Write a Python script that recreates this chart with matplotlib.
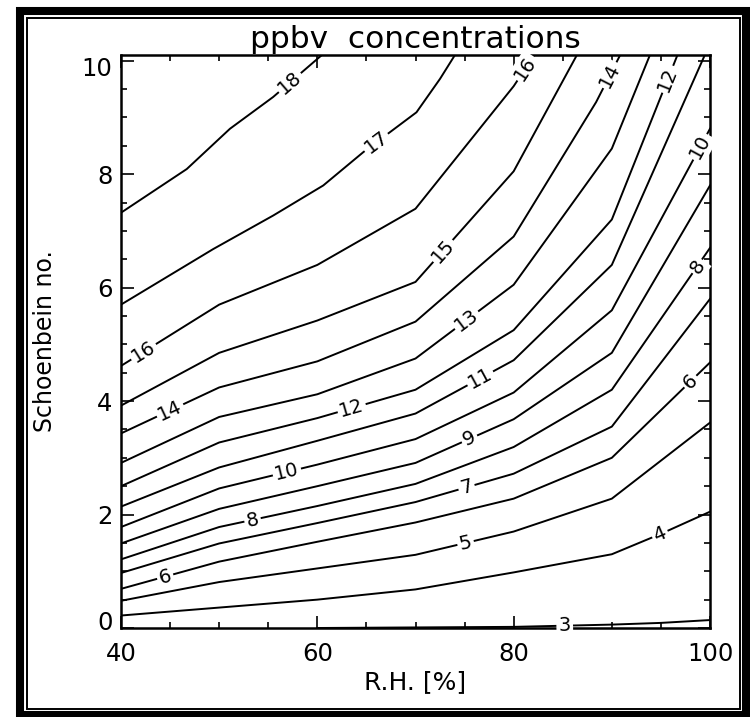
import numpy as np
import matplotlib.pyplot as plt
from matplotlib.patches import Rectangle
from matplotlib.ticker import MultipleLocator
from matplotlib.transforms import ScaledTranslation

# Contour traces: Schoenbein no. at given R.H. [%] for each ppbv level
rh_nodes = [40, 50, 60, 70, 80, 90, 100]

c18_x = [40, 46.7, 51.1, 55.5, 60.8]
c18_y = [7.32, 8.09, 8.80, 9.36, 10.15]
c17_x = [40, 49.4, 55.5, 60.6, 64.7, 70.1, 72.5, 74.2]
c17_y = [5.70, 6.68, 7.27, 7.80, 8.39, 9.09, 9.68, 10.15]
c16_x = [40, 50, 60, 70, 80, 82.3]
c16_y = [4.62, 5.70, 6.40, 7.39, 9.55, 10.15]
c15_x = [40, 50, 60, 70, 80, 86.6]
c15_y = [3.92, 4.85, 5.42, 6.10, 8.05, 10.15]
c14_x = [40, 50, 60, 70, 80, 88.4, 91]
c14_y = [3.43, 4.24, 4.70, 5.40, 6.90, 9.27, 10.15]
c13_x = [40, 50, 60, 70, 80, 90, 94]
c13_y = [2.91, 3.72, 4.12, 4.75, 6.05, 8.45, 10.15]
c12_x = [40, 50, 60, 70, 80, 90, 96.8]
c12_y = [2.50, 3.27, 3.70, 4.20, 5.25, 7.20, 10.15]
c11_x = [40, 50, 60, 70, 80, 90, 99.6]
c11_y = [2.14, 2.83, 3.30, 3.78, 4.72, 6.40, 10.15]
c10_y = [1.78, 2.46, 2.88, 3.33, 4.15, 5.60, 8.80]
c9_y = [1.49, 2.10, 2.50, 2.91, 3.68, 4.85, 7.80]
c8_y = [1.21, 1.78, 2.15, 2.54, 3.19, 4.20, 6.70]
c7_y = [0.97, 1.49, 1.85, 2.22, 2.72, 3.55, 5.80]
c6_y = [0.69, 1.17, 1.52, 1.86, 2.28, 3.00, 4.68]
c5_y = [0.48, 0.81, 1.05, 1.29, 1.70, 2.28, 3.62]
c4_x = [40, 50, 60, 70, 80, 90, 95, 100]
c4_y = [0.22, 0.36, 0.50, 0.68, 0.98, 1.30, 1.66, 2.05]
c3_x = [60, 70, 80, 85, 90, 95, 100]
c3_y = [0.0, 0.01, 0.02, 0.04, 0.06, 0.09, 0.14]

# R.H. positions of the inline labels on each contour
label_at = {18: [57.2], 17: [66.0], 16: [42.3, 81.2], 15: [72.8], 14: [45.0, 89.8],
            13: [75.2], 12: [63.5, 95.7], 11: [76.6], 10: [56.9, 99.0], 9: [75.5],
            8: [53.4, 98.7], 7: [75.2], 6: [44.5, 98.0], 5: [75.1], 4: [94.9], 3: [85.2]}

contours = {
    18: (c18_x, c18_y), 17: (c17_x, c17_y), 16: (c16_x, c16_y), 15: (c15_x, c15_y),
    14: (c14_x, c14_y), 13: (c13_x, c13_y), 12: (c12_x, c12_y), 11: (c11_x, c11_y),
    10: (rh_nodes, c10_y), 9: (rh_nodes, c9_y), 8: (rh_nodes, c8_y), 7: (rh_nodes, c7_y),
    6: (rh_nodes, c6_y), 5: (rh_nodes, c5_y), 4: (c4_x, c4_y), 3: (c3_x, c3_y),
}


def main():
    W, H = 750, 717
    fig = plt.figure(figsize=(W / 100, H / 100), dpi=100)
    ax = fig.add_axes([121 / W, 1 - 628 / H, 589 / W, 573 / H])
    ax.set_xlim(40, 100)
    ax.set_ylim(0, 10.1)

    for level, (xs, ys) in contours.items():
        ax.plot(xs, ys, color="black", lw=1.4, solid_joinstyle="round")

    # inline labels, rotated along the line
    for level, spots in label_at.items():
        xs, ys = contours[level]
        for at in spots:
            y_at = np.interp(at, xs, ys)
            p0 = ax.transData.transform((at - 0.8, np.interp(at - 0.8, xs, ys)))
            p1 = ax.transData.transform((at + 0.8, np.interp(at + 0.8, xs, ys)))
            ang = np.degrees(np.arctan2(p1[1] - p0[1], p1[0] - p0[0]))
            ax.text(at, y_at, str(level), rotation=ang, rotation_mode="anchor",
                    ha="center", va="center", fontsize=14,
                    bbox=dict(fc="white", ec="none", pad=1.5))

    ax.xaxis.set_major_locator(MultipleLocator(20))
    ax.xaxis.set_minor_locator(MultipleLocator(5))
    ax.set_yticks([0, 2, 4, 6, 8, 10])
    ax.set_ylim(0, 10.1)
    ax.yaxis.set_minor_locator(MultipleLocator(0.5))
    ax.tick_params(which="both", direction="in", top=True, right=True, width=1.2)
    ax.tick_params(which="major", length=9, labelsize=17.5)
    ax.tick_params(axis="x", which="major", pad=10)
    ax.tick_params(axis="y", which="major", pad=6)
    ax.tick_params(which="minor", length=4.5)
    for sp in ax.spines.values():
        sp.set_linewidth(1.8)

    # end labels of the y axis sit a little inside the axis range, as in the original
    yticks = ax.yaxis.get_major_ticks()
    lab0 = yticks[0].label1
    lab0.set_transform(lab0.get_transform() + ScaledTranslation(0, 0.08, fig.dpi_scale_trans))
    lab10 = yticks[-1].label1
    lab10.set_transform(lab10.get_transform() + ScaledTranslation(0, -0.06, fig.dpi_scale_trans))

    ax.set_xlabel("R.H. [%]", fontsize=18)
    ax.set_ylabel("Schoenbein no.", fontsize=17)
    ax.xaxis.label.set_va("center")
    ax.yaxis.label.set_va("center")
    ax.xaxis.set_label_coords(0.5, (628 - 682) / 573)
    ax.yaxis.set_label_coords((45 - 121) / 589, 0.5)

    fig.text(415 / W, 1 - 48 / H, "ppbv  concentrations", ha="center",
             va="baseline", fontsize=22.5)

    # double frame round the whole figure
    fig.patches.append(Rectangle((20 / W, 2 / H), 725.5 / W, 704 / H, fill=False,
                                 ec="black", lw=5.8, transform=fig.transFigure))
    fig.patches.append(Rectangle((27.3 / W, 8 / H), 712.7 / W, 691 / H, fill=False,
                                 ec="black", lw=1.4, transform=fig.transFigure))

    fig.savefig("out.png", dpi=100)
    plt.close(fig)


if __name__ == "__main__":
    main()
